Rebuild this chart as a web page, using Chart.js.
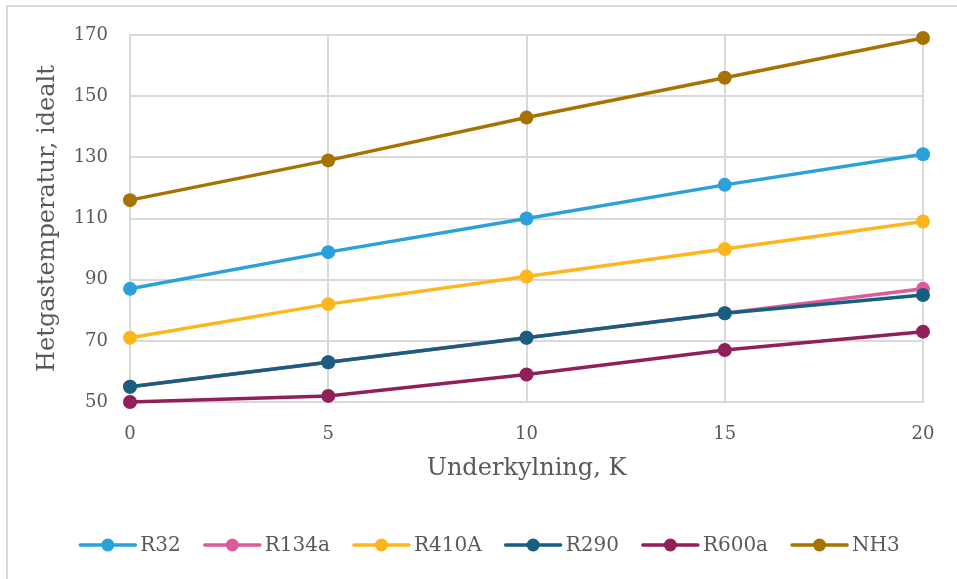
<!DOCTYPE html>
<html>
<head>
<meta charset="utf-8">
<script src="https://cdn.jsdelivr.net/npm/chart.js@4.4.1/dist/chart.umd.min.js"></script>
<style>
  html, body { margin: 0; padding: 0; background: #ffffff; }
  #wrap { position: relative; width: 957px; height: 579px; }
</style>
</head>
<body>
<div id="wrap"><canvas id="c" width="957" height="579"></canvas></div>
<script>
// Subcooling (K) on the x axis
const subcooling = [0, 5, 10, 15, 20];

// Ideal discharge (hot gas) temperature per refrigerant
const seriesNames = ['R32', 'R134a', 'R410A', 'R290', 'R600a', 'NH3'];
const r32   = [87, 99, 110, 121, 131];
const r134a = [55, 63, 71, 79, 87];
const r410a = [71, 82, 91, 100, 109];
const r290  = [55, 63, 71, 79, 85];
const r600a = [50, 52, 59, 67, 73];
const nh3   = [116, 129, 143, 156, 169];

// Axis ticks
const xTicks = [0, 5, 10, 15, 20];
const yTicks = [50, 70, 90, 110, 130, 150, 170];

const seriesValues = [r32, r134a, r410a, r290, r600a, nh3];
const seriesColors = ['#2AA1DA', '#DC5A9B', '#FDB71D', '#175E80', '#911F5A', '#A67301'];

const FONT = '"DejaVu Serif", "Liberation Serif", serif';
const TEXT = '#595959';
const GRID = '#D9D9D9';

const datasets = seriesNames.map((name, i) => ({
  label: name,
  data: subcooling.map((x, j) => ({ x: x, y: seriesValues[i][j] })),
  borderColor: seriesColors[i],
  backgroundColor: seriesColors[i],
  borderWidth: 3.5,
  pointRadius: 7,
  pointHoverRadius: 7,
  pointBorderWidth: 0,
  tension: 0,
  clip: false,
  // later series are painted above earlier ones
  order: seriesNames.length - i
}));

// White page with a thin frame along the top and left edges
const frame = {
  id: 'frame',
  beforeDraw(chart) {
    const ctx = chart.ctx;
    ctx.save();
    ctx.fillStyle = '#ffffff';
    ctx.fillRect(0, 0, chart.width, chart.height);
    ctx.strokeStyle = GRID;
    ctx.lineWidth = 2;
    ctx.strokeRect(7, 6, chart.width + 20, chart.height + 20);
    ctx.restore();
  }
};

// Legend: line with a marker, followed by the series name, centred row
const lineLegend = {
  id: 'lineLegend',
  afterDraw(chart) {
    const ctx = chart.ctx;
    ctx.save();
    ctx.font = '20px ' + FONT;
    const lineLen = 55, textGap = 5, itemGap = 24;
    const items = chart.data.datasets.map(ds => ({
      ds: ds,
      w: lineLen + textGap + ctx.measureText(ds.label).width
    }));
    const total = items.reduce((s, it) => s + it.w, 0) + itemGap * (items.length - 1);
    let x = 490 - total / 2;
    const y = 545;
    items.forEach(it => {
      ctx.strokeStyle = it.ds.borderColor;
      ctx.lineWidth = 3.5;
      ctx.lineCap = 'round';
      ctx.beginPath();
      ctx.moveTo(x, y);
      ctx.lineTo(x + lineLen, y);
      ctx.stroke();
      ctx.fillStyle = it.ds.borderColor;
      ctx.beginPath();
      ctx.arc(x + lineLen / 2, y, 6.5, 0, Math.PI * 2);
      ctx.fill();
      ctx.fillStyle = TEXT;
      ctx.textBaseline = 'middle';
      ctx.textAlign = 'left';
      ctx.fillText(it.ds.label, x + lineLen + textGap, y + 1);
      x += it.w + itemGap;
    });
    ctx.restore();
  }
};

new Chart(document.getElementById('c'), {
  type: 'line',
  data: { datasets: datasets },
  plugins: [frame, lineLegend],
  options: {
    responsive: false,
    animation: false,
    events: [],
    layout: { padding: { top: 35, right: 34, bottom: 77, left: 8 } },
    plugins: {
      legend: { display: false },
      tooltip: { enabled: false }
    },
    scales: {
      x: {
        type: 'linear',
        min: xTicks[0],
        max: xTicks[xTicks.length - 1],
        afterBuildTicks(scale) { scale.ticks = xTicks.map(v => ({ value: v })); },
        afterFit(scale) { scale.height = 100; },
        ticks: { color: TEXT, font: { family: FONT, size: 18 }, padding: 22 },
        grid: { color: GRID, lineWidth: 2, drawTicks: false },
        border: { color: GRID, width: 2 },
        title: {
          display: true,
          text: 'Underkylning, K',
          color: TEXT,
          font: { family: FONT, size: 24 },
          padding: { top: 0, bottom: 19 }
        }
      },
      y: {
        type: 'linear',
        min: yTicks[0],
        max: yTicks[yTicks.length - 1],
        afterBuildTicks(scale) { scale.ticks = yTicks.map(v => ({ value: v })); },
        afterFit(scale) { scale.width = 122; },
        ticks: { color: TEXT, font: { family: FONT, size: 18 }, padding: 22 },
        grid: { color: GRID, lineWidth: 2, drawTicks: false },
        border: { color: GRID, width: 2 },
        title: {
          display: true,
          text: 'Hetgastemperatur, idealt',
          color: TEXT,
          font: { family: FONT, size: 24 },
          padding: { top: 25, bottom: 0 }
        }
      }
    }
  }
});
</script>
</body>
</html>
